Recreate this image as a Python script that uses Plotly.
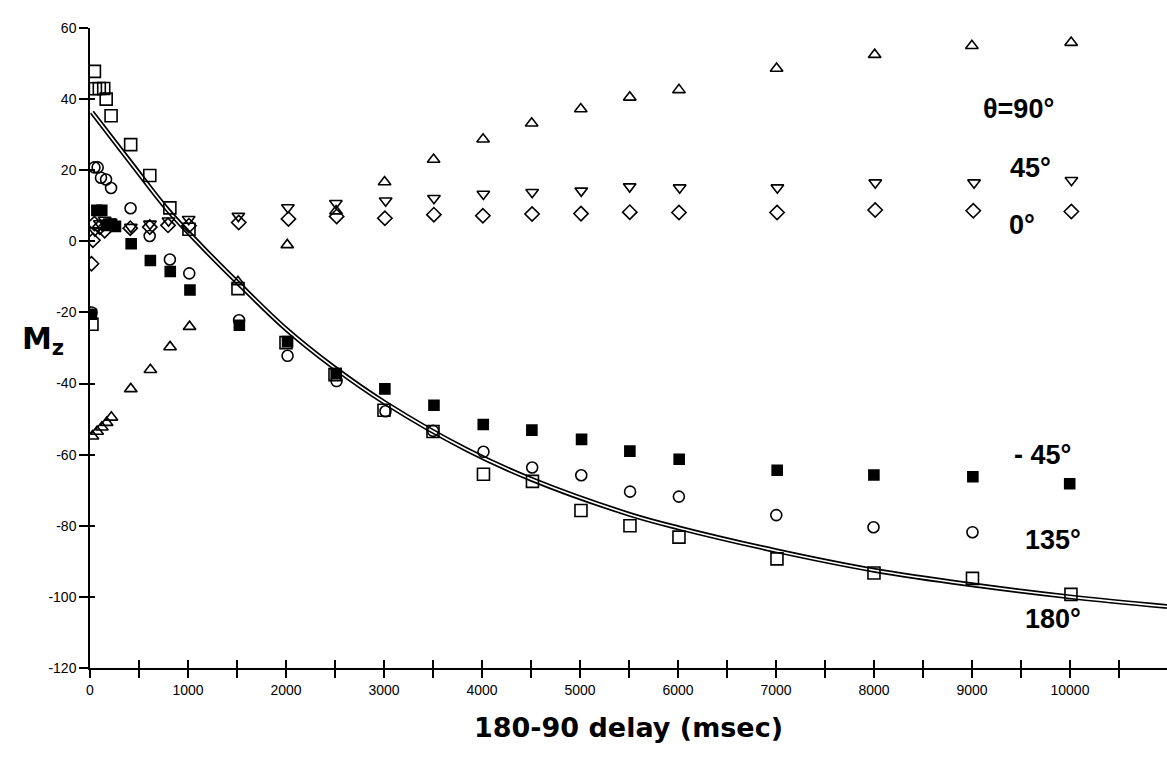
import plotly.graph_objects as go

# ---------------- data ----------------
x_180 = [20, 45, 55, 95, 140, 165, 215, 415, 610, 815, 1010, 1510, 2000, 2500, 3000, 3500,
         4015, 4515, 5010, 5510, 6010, 7010, 8000, 9005, 10010]
y_180 = [-23.3, 47.8, 42.9, 43.0, 43.0, 40.0, 35.3, 27.2, 18.5, 9.4, 3.4, -13.3, -28.5, -37.5,
         -47.5, -53.5, -65.5, -67.5, -75.7, -80.0, -83.2, -89.3, -93.3, -94.8, -99.3]

x_135 = [15, 45, 78, 112, 164, 215, 414, 609, 815, 1013, 1521, 2016, 2516, 3015, 3501,
         4015, 4512, 5013, 5511, 6009, 7003, 7995, 9005]
y_135 = [-20.0, 20.8, 20.8, 17.9, 17.4, 15.0, 9.3, 1.5, -5.1, -9.0, -22.2, -32.2, -39.3, -47.8,
         -53.3, -59.2, -63.6, -65.8, -70.4, -71.8, -77.0, -80.4, -81.8]

x_m45 = [15, 70, 120, 170, 220, 260, 420, 616, 819, 1020, 1524, 2016, 2512, 3009, 3510,
         4013, 4509, 5016, 5509, 6012, 7012, 7999, 9009, 9997]
y_m45 = [-20.5, 8.7, 8.7, 4.5, 4.8, 4.2, -0.7, -5.4, -8.5, -13.7, -23.6, -28.2, -37.2, -41.5,
         -46.1, -51.5, -53.1, -55.7, -59.0, -61.3, -64.4, -65.7, -66.2, -68.2]

x_90 = [25, 73, 121, 170, 218, 416, 616, 817, 1016, 1510, 2013, 2511, 3006, 3506, 4011,
        4507, 5008, 5508, 6010, 7006, 8007, 8999, 10012]
y_90 = [-54.8, -53.5, -52.3, -51.0, -49.5, -41.5, -36.1, -29.7, -24.0, -11.4, -1.0, 8.5, 16.7,
        23.0, 28.7, 33.2, 37.2, 40.5, 42.6, 48.6, 52.5, 55.0, 55.9]

x_45 = [50, 100, 150, 200, 417, 612, 801, 1007, 1514, 2019, 2509, 3017, 3510, 4014, 4512,
        5013, 5507, 6017, 7014, 8013, 9021, 10015]
y_45 = [3.0, 5.0, 6.0, 5.5, 4.0, 4.9, 5.8, 6.2, 7.1, 9.5, 10.7, 11.4, 12.1, 13.3, 13.8, 14.2,
        15.4, 15.1, 15.1, 16.5, 16.5, 17.2]

x_0 = [15, 30, 45, 100, 150, 411, 610, 796, 1010, 1518, 2025, 2517, 3009, 3509, 4009, 4511,
       5010, 5508, 6010, 7011, 8012, 9013, 10014]
y_0 = [-6.3, 0.3, 5.0, 4.0, 3.0, 3.7, 4.0, 4.5, 4.4, 5.3, 6.3, 7.0, 6.5, 7.5, 7.2, 7.7, 7.8,
       8.2, 8.1, 8.1, 8.8, 8.6, 8.4]

fit_x = [20, 434, 798, 1160, 1518, 2002, 2481, 3010, 3851, 4512, 5507, 6008, 7000, 8000,
         9000, 10000, 10990]
fit_y = [36.3, 21.5, 8.7, -2.0, -11.9, -24.7, -35.3, -45.4, -58.7, -67.0, -76.8, -80.6, -87.0,
         -92.5, -96.6, -100.0, -102.7]

x_major = list(range(0, 11000, 1000))
x_major_text = [str(v) for v in x_major]
x_all = list(range(0, 11000, 500))
y_ticks = [-120, -100, -80, -60, -40, -20, 0, 20, 40, 60]
y_ticktext = ["-120", "-100", "-80", "-60", "-40", "-20", "0", "20", "40", "60"]

labels = ["θ=90°", "45°", "0°", "- 45°", "135°", "180°"]
label_x = [9470, 9600, 9510, 9720, 9830, 9830]
label_y = [37.3, 20.7, 4.5, -60.0, -84.0, -106.3]

X_RANGE = [0, 10990]
Y_RANGE = [-120, 60]

# ---------------- figure ----------------
fig = go.Figure()

# double-line fit curve: thick black with white core
fig.add_trace(go.Scatter(x=fit_x, y=fit_y, mode="lines",
                         line=dict(color="black", width=5, shape="spline", smoothing=1.0),
                         hoverinfo="skip", showlegend=False))
fig.add_trace(go.Scatter(x=fit_x, y=fit_y, mode="lines",
                         line=dict(color="white", width=1.6, shape="spline", smoothing=1.0),
                         hoverinfo="skip", showlegend=False))

series = [
    (x_90, y_90, "triangle-up-open", 11, "θ=90°"),
    (x_45, y_45, "triangle-down-open", 11, "45°"),
    (x_0, y_0, "diamond-open", 11, "0°"),
    (x_135, y_135, "circle-open", 11, "135°"),
    (x_180, y_180, "square-open", 12, "180°"),
    (x_m45, y_m45, "square", 10, "-45°"),
]
for xs, ys, sym, sz, name in series:
    fig.add_trace(go.Scatter(
        x=xs, y=ys, mode="markers", name=name, showlegend=False,
        marker=dict(symbol=sym, size=sz, color="black",
                    line=dict(color="black", width=1.6)),
    ))

# invisible trace for the overlay axes (inward half of crossing ticks)
fig.add_trace(go.Scatter(x=[None], y=[None], xaxis="x2", yaxis="y2",
                         mode="markers", showlegend=False, hoverinfo="skip"))

for txt, lx, ly in zip(labels, label_x, label_y):
    fig.add_annotation(x=lx, y=ly, xref="x", yref="y", text="<b>" + txt + "</b>",
                       showarrow=False,
                       font=dict(family="Liberation Sans", size=27, color="black"))

fig.add_annotation(x=-0.065, y=-28, xref="paper", yref="y",
                   text="<b>M<sub>z</sub></b>", showarrow=False,
                   font=dict(family="DejaVu Sans", size=30, color="black"))

tickfont = dict(family="Liberation Sans", size=14, color="black")

fig.update_layout(
    width=1167, height=782,
    margin=dict(l=90, r=0, t=28, b=114),
    paper_bgcolor="white", plot_bgcolor="white",
    xaxis=dict(range=X_RANGE, tickmode="array", tickvals=x_major, ticktext=x_major_text,
               ticks="outside", ticklen=8, tickwidth=1.5, tickcolor="black",
               minor=dict(tickmode="array", tickvals=x_all, ticks="outside", ticklen=8,
                          tickwidth=1.5, tickcolor="black", showgrid=False),
               showline=True, linecolor="black", linewidth=1.5,
               showgrid=False, zeroline=False, tickfont=tickfont,
               title=dict(text="<b>180-90 delay (msec)</b>", standoff=22,
                          font=dict(family="DejaVu Sans", size=27, color="black"))),
    yaxis=dict(range=Y_RANGE, tickmode="array", tickvals=y_ticks, ticktext=y_ticktext,
               ticks="outside", ticklen=9, tickwidth=1.5, tickcolor="black",
               showline=True, linecolor="black", linewidth=1.5,
               showgrid=False, zeroline=False, tickfont=tickfont),
    xaxis2=dict(range=X_RANGE, overlaying="x", anchor="y", side="bottom",
                tickmode="array", tickvals=x_all, showticklabels=False,
                ticks="inside", ticklen=8, tickwidth=1.5, tickcolor="black",
                showline=False, showgrid=False, zeroline=False),
    yaxis2=dict(range=Y_RANGE, overlaying="y", anchor="x", side="left",
                tickmode="array", tickvals=y_ticks, showticklabels=False,
                ticks="inside", ticklen=5, tickwidth=1.5, tickcolor="black",
                showline=False, showgrid=False, zeroline=False),
    showlegend=False,
)

fig.write_html("out.html")
